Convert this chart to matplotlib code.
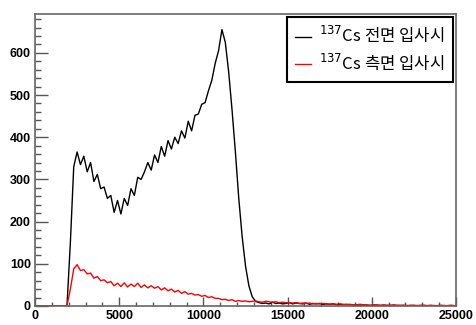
import numpy as np
import matplotlib
matplotlib.use("Agg")
import matplotlib.pyplot as plt
from matplotlib.ticker import MultipleLocator

# channel bins: 0 .. 25000, width 200
bin_width = 200
n_bins = 125

# 137Cs front incidence (black)
front = [0, 0, 0, 0, 0, 0, 0, 0, 0, 1,
         150, 330, 365, 335, 355, 318, 340, 295, 312, 278,
         282, 255, 262, 222, 250, 218, 255, 238, 278, 262,
         305, 300, 318, 340, 322, 358, 340, 378, 355, 392,
         372, 400, 385, 415, 398, 438, 415, 452, 455, 478,
         482, 510, 535, 575, 605, 655, 625, 555, 465, 365,
         255, 165, 95, 48, 22, 11,
         8, 6, 7, 5, 9, 6, 7, 5, 6, 8, 5, 7, 6, 5, 7, 4, 6, 5, 6, 4,
         5, 4, 5, 3, 4, 3, 4, 3, 2,
         2, 1, 2, 1, 1, 2, 1, 1, 0, 1, 1, 0, 1, 0, 1, 1, 0, 0, 1, 0,
         1, 0, 0, 1, 0, 0, 1, 0, 0, 0]

# 137Cs side incidence (red)
side = [0, 0, 0, 0, 0, 0, 0, 0, 0, 1,
        40, 88, 98, 84, 86, 76, 78, 66, 70, 60,
        62, 55, 58, 48, 54, 46, 55, 45, 52, 46,
        54, 44, 50, 43, 48, 42, 46, 38, 43, 36,
        40, 33, 37, 30, 34, 28, 30, 26, 27, 23,
        25, 20, 22, 18, 18, 15, 16, 13, 15, 11,
        13, 11, 12, 10, 11, 12, 10, 9, 11, 10, 9, 10, 8, 9, 8,
        8, 7, 8, 6, 7, 6, 7, 5, 6, 5, 6, 5, 4, 5, 4, 5, 4, 3, 4, 3,
        3, 4, 3, 3, 2, 3, 3, 2, 3, 2, 2, 3, 2, 2, 2, 1, 2, 2, 1, 2,
        2, 1, 2, 1, 1, 2, 1, 1, 2, 1]

labels = ['$^{137}$Cs 전면 입사시', '$^{137}$Cs 측면 입사시']

centers = (np.arange(n_bins) + 0.5) * bin_width

fig = plt.figure(figsize=(4.76, 3.25), dpi=100)
ax = fig.add_axes([35/476, 19/325, 421/476, 292/325])

ax.plot(centers, front, color='black', lw=1.0, label=labels[0])
ax.plot(centers, side, color='red', lw=1.0, label=labels[1])

ax.set_xlim(0, 25000)
ax.set_ylim(0, 692)
ax.xaxis.set_major_locator(MultipleLocator(5000))
ax.xaxis.set_minor_locator(MultipleLocator(1000))
ax.yaxis.set_major_locator(MultipleLocator(100))
ax.yaxis.set_minor_locator(MultipleLocator(20))

ax.tick_params(axis='y', which='major', direction='in', length=9, width=1, color='#555555', pad=3)
ax.tick_params(axis='y', which='minor', direction='in', length=4.5, width=1, color='#555555')
ax.tick_params(axis='x', which='major', direction='in', length=6.3, width=1, color='#555555', pad=3)
ax.tick_params(axis='x', which='minor', direction='in', length=3.2, width=1, color='#555555')

for lab in ax.get_xticklabels() + ax.get_yticklabels():
    lab.set_fontfamily('Liberation Sans')
    lab.set_fontweight('bold')
    lab.set_fontsize(9)

for sp in ax.spines.values():
    sp.set_color('#666666')
    sp.set_linewidth(1.2)

leg = ax.legend(loc='upper right', bbox_to_anchor=(0.992, 0.99), borderaxespad=0,
                fancybox=False, framealpha=1, edgecolor='black', handlelength=0.95,
                handletextpad=0.5, borderpad=0.5, labelspacing=0.4,
                prop={'family': ['Noto Sans CJK KR', 'DejaVu Sans'], 'size': 12})
leg.get_frame().set_linewidth(1.5)

fig.savefig('out.png', dpi=100)
